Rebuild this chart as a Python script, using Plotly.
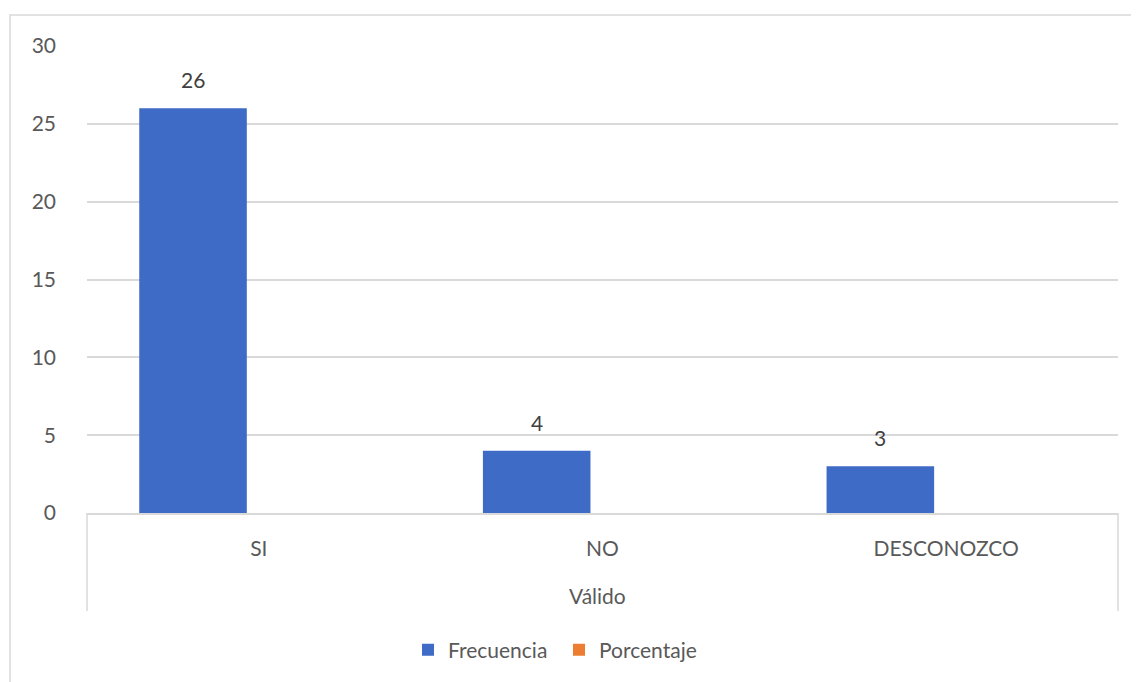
import plotly.graph_objects as go

categories = ["SI", "NO", "DESCONOZCO"]
frecuencia = [26, 4, 3]
porcentaje = [None, None, None]  # no bars visible for this series
group_label = "Válido"
y_ticks = [0, 5, 10, 15, 20, 25, 30]

OFF = 8  # default page body margin
W, H = 1139 - OFF, 682 - OFF
# plot area in screen coords: x 87..1118, y 46..513
L, T = 87 - OFF, 46 - OFF
R = W - (1118 - OFF)
B = H - (513 - OFF)
PW, PH = W - L - R, H - T - B

def px(x):
    return (x - OFF - L) / PW

def py(y):
    return (H - B - (y - OFF)) / PH

FONT = "Lato"
TXT = "#595959"
GRID = "#d9d9d9"
BLUE = "#3e6bc5"
ORANGE = "#ed7d31"
FS = 21

BAR_W = 0.313
BAR_OFF = -0.348

fig = go.Figure()
fig.add_trace(go.Bar(
    x=categories, y=frecuencia, name="Frecuencia",
    marker=dict(color=BLUE, line=dict(width=0)),
    width=BAR_W, offset=BAR_OFF,
))
fig.add_trace(go.Bar(
    x=categories, y=porcentaje, name="Porcentaje",
    marker=dict(color=ORANGE, line=dict(width=0)),
    width=BAR_W, offset=BAR_OFF + BAR_W + 0.035,
))

# data labels
for i, v in enumerate(frecuencia):
    fig.add_annotation(
        x=i + BAR_OFF + BAR_W / 2, y=v, text=str(v), showarrow=False,
        yanchor="bottom", yshift=14, font=dict(family=FONT, size=FS, color="#404040"),
    )

# group label
fig.add_annotation(
    x=px(597), y=py(595), xref="paper", yref="paper", text=group_label,
    showarrow=False, xanchor="center", yanchor="middle",
    font=dict(family=FONT, size=FS, color=TXT),
)

shapes = [
    # outer chart frame (top & left visible)
    dict(type="rect", xref="paper", yref="paper",
         x0=px(10), x1=px(1160), y0=py(720), y1=py(15),
         line=dict(color=GRID, width=1.5), fillcolor="rgba(0,0,0,0)", layer="below"),
    # category axis box sides
    dict(type="line", xref="paper", yref="paper", x0=0, x1=0, y0=0, y1=py(611),
         line=dict(color=GRID, width=1.5)),
    dict(type="line", xref="paper", yref="paper", x0=1, x1=1, y0=0, y1=py(611),
         line=dict(color=GRID, width=1.5)),
]

fig.update_layout(
    width=W, height=H, autosize=False,
    margin=dict(l=L, r=R, t=T, b=B, autoexpand=False),
    paper_bgcolor="white", plot_bgcolor="white",
    barmode="overlay",
    font=dict(family=FONT, size=FS, color=TXT),
    showlegend=True,
    legend=dict(orientation="h", x=px(408), y=py(650), xanchor="left", yanchor="middle",
                font=dict(family=FONT, size=FS, color=TXT),
                entrywidth=106, entrywidthmode="pixels", itemclick=False),
    shapes=shapes,
    xaxis=dict(showline=True, linecolor=GRID, linewidth=1.5, showgrid=False,
               ticks="", ticklabelstandoff=16, tickfont=dict(family=FONT, size=FS, color=TXT),
               range=[-0.5, 2.5], fixedrange=True),
    yaxis=dict(range=[0, 30], tickvals=y_ticks, showgrid=True, gridcolor=GRID, gridwidth=1.5,
               zeroline=False, showline=False, ticks="", ticklabelstandoff=30,
               tickfont=dict(family=FONT, size=FS, color=TXT), fixedrange=True),
)

fig.write_html("out.html")
